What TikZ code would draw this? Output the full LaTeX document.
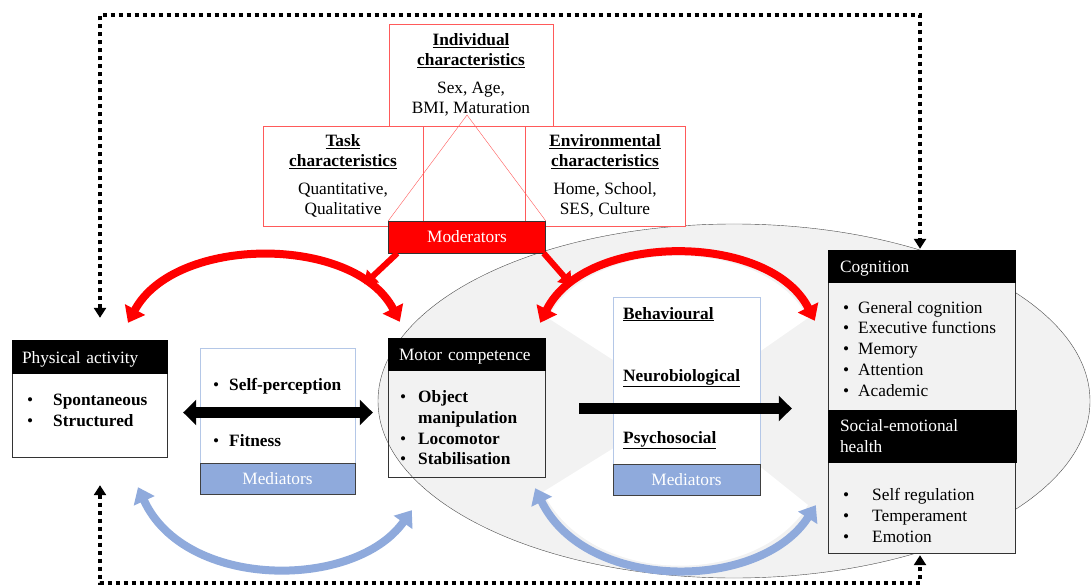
\documentclass[tikz,border=0pt]{standalone}
\usepackage{fontspec}
\setmainfont{Liberation Serif}
\usetikzlibrary{arrows.meta}
\definecolor{modred}{HTML}{FF0000}
\definecolor{boxred}{HTML}{FF5A5A}
\definecolor{medblue}{HTML}{8FAADC}
\definecolor{medline}{HTML}{B4C7E7}
\definecolor{ovalgrey}{HTML}{F2F2F2}
\newcommand{\uhd}[1]{\underline{\textbf{#1}}}

\begin{document}
\begin{tikzpicture}[x=1pt,y=-1pt,font=\fontsize{17.3}{20.5}\selectfont,
 redbox/.style={draw=boxred,fill=white,align=center,inner sep=0pt},
 box/.style={draw=black!80,inner sep=0pt},
 hdr/.style={fill=black,draw=black,text=white,align=left,inner ysep=0pt},
 hdrone/.style={hdr,text height=14pt,text depth=1pt},
 medbox/.style={draw=medline,fill=white,inner sep=0pt},
 medbar/.style={draw=black!75,fill=medblue,text=white,inner sep=0pt},
 item/.style={anchor=base west,inner sep=0pt},
 bigar/.style={line width=11pt,-{Triangle[length=13pt,width=25pt]}},
 redarc/.style={draw=modred,line width=8pt,{Triangle[length=15pt,width=22pt]}-{Triangle[length=15pt,width=22pt]}},
 bluearc/.style={draw=medblue,line width=8pt,{Triangle[length=15pt,width=22pt]}-{Triangle[length=15pt,width=22pt]}},
 modar/.style={draw=modred,line width=6pt,-{Triangle[length=12pt,width=17pt]}},
 dotl/.style={line width=4pt,dash pattern=on 4pt off 4pt,{Triangle[length=10pt,width=12pt]}-{Triangle[length=10pt,width=12pt]}}]
\path[use as bounding box,fill=white] (0,0) rectangle (1092,588);
\draw[draw=black!70,fill=ovalgrey] (734,401) ellipse (356pt and 177pt);
\fill[white] (548,318) .. controls (590,235) and (765,235) .. (808,318) -- (683,405) -- cycle;
\fill[white] (543,492) .. controls (590,588) and (757,588) .. (808,505) -- (683,405) -- cycle;
\node[redbox,minimum width=164,minimum height=102] (indiv) at (471,75)
 {\uhd{Individual}\\\uhd{characteristics}\\[7pt]Sex, Age,\\BMI, Maturation};
\node[redbox,minimum width=160,minimum height=100] (task) at (343,176)
 {\uhd{Task}\\\uhd{characteristics}\\[7pt]Quantitative,\\Qualitative};
\node[redbox,minimum width=160,minimum height=100] (env) at (605,176)
 {\uhd{Environmental}\\\uhd{characteristics}\\[7pt]Home, School,\\SES, Culture};
\node[draw=black!80,fill=modred,text=white,minimum width=157,minimum height=32,inner sep=0pt] (mod) at (467,237) {Moderators};
\coordinate (apex) at (467,115);
\draw[boxred] (mod.north west) -- (apex) -- (mod.north east);
\node[box,fill=white,minimum width=155,minimum height=117] (pa) at (89.5,398.5) {};
\node[hdrone,text width=135,inner xsep=10pt,minimum height=33,anchor=north] (pahd) at (pa.north) {Physical activity};
\foreach \t [count=\i] in {Spontaneous,Structured}
 \node[item] (pa\i) at (27,384+21*\i) {\makebox[26pt][l]{\textbullet}\textbf{\t}};
\node[medbox,minimum width=155,minimum height=115] (ml) at (277.5,405.5) {};
\node[medbar,minimum width=155,minimum height=31] (mlbar) at (277.5,478.5) {Mediators};
\node[item] (ml1) at (213,390) {\makebox[16pt][l]{\textbullet}\textbf{Self-perception}};
\node[item] (ml2) at (213,446) {\makebox[16pt][l]{\textbullet}\textbf{Fitness}};
\node[box,minimum width=157,minimum height=139] (mc) at (466.5,407.5) {};
\node[hdrone,text width=135,inner xsep=11pt,minimum height=32,anchor=north] (mchd) at (mc.north) {Motor competence};
\foreach \b/\t [count=\i] in {\textbullet/Object,/manipulation,\textbullet/Locomotor,\textbullet/Stabilisation}
 \node[item] (mc\i) at (400,382+20.7*\i) {\makebox[18pt][l]{\b}\textbf{\t}};
\node[medbox,minimum width=147,minimum height=167] (mm) at (686.5,380.5) {};
\node[medbar,minimum width=147,minimum height=31] (mmbar) at (686.5,479.5) {Mediators};
\foreach \t [count=\i] in {Behavioural,Neurobiological,Psychosocial}
 \node[item] (mm\i) at (623,257+62*\i) {\uhd{\t}};
\node[box,fill=ovalgrey,minimum width=187,minimum height=303] (cog) at (921.5,401.5) {};
\node[hdrone,text width=163,inner xsep=12pt,minimum height=32,anchor=north] (coghd) at (cog.north) {Cognition};
\foreach \t [count=\i] in {General cognition,Executive functions,Memory,Attention,Academic}
 \node[item] (cog\i) at (843,292.2+20.8*\i) {\makebox[15pt][l]{\textbullet}\t};
\node[hdr,text width=164,inner xsep=12pt,minimum height=52] (sehd) at (922,436) {Social-emotional\\health};
\foreach \t [count=\i] in {Self regulation,Temperament,Emotion}
 \node[item] (se\i) at (843,479+21*\i) {\makebox[29pt][l]{\textbullet}\t};
\draw[bigar,{Triangle[length=13pt,width=25pt]}-{Triangle[length=13pt,width=25pt]}]
 ([xshift=16pt,yshift=-14pt]pa.east) -- ([xshift=-15pt,yshift=-5pt]mc.west);
\draw[bigar] ([xshift=34pt,yshift=-1pt]mc.east) -- ([xshift=-36pt,yshift=-7pt]cog.west);
\draw[modar] ([xshift=9pt]mod.south west) -- ++(-33,31);
\draw[modar] ([xshift=-2pt]mod.south east) -- ++(28,32);
\draw[redarc] ([xshift=38.5pt,yshift=17pt]pa.north) .. controls +(47,-88) and +(-45,-87) .. ([xshift=12pt,yshift=16pt]mc.north west);
\draw[redarc] ([xshift=-5pt,yshift=15pt]mc.north east) .. controls +(45,-91) and +(-45,-89) .. ([xshift=-13pt,yshift=-71pt]cog.north west);
\draw[bluearc] ([xshift=48.5pt,yshift=-30pt]pa.south) .. controls +(47,103) and +(-57,80) .. ([xshift=24pt,yshift=-33pt]mc.south west);
\draw[bluearc] ([xshift=-10pt,yshift=-11pt]mc.south east) .. controls +(50,104) and +(-56,87) .. ([xshift=-12pt,yshift=48pt]cog.south west);
\draw[dotl] ([xshift=10.5pt,yshift=22pt]pa.north) -- (100,15) -- (920,15) -- ([xshift=-1.5pt,yshift=1pt]cog.north);
\draw[dotl] ([xshift=10.5pt,yshift=-28pt]pa.south) -- (100,583) -- (920,583) -- ([xshift=-1.5pt,yshift=-2pt]cog.south);
\end{tikzpicture}
\end{document}
